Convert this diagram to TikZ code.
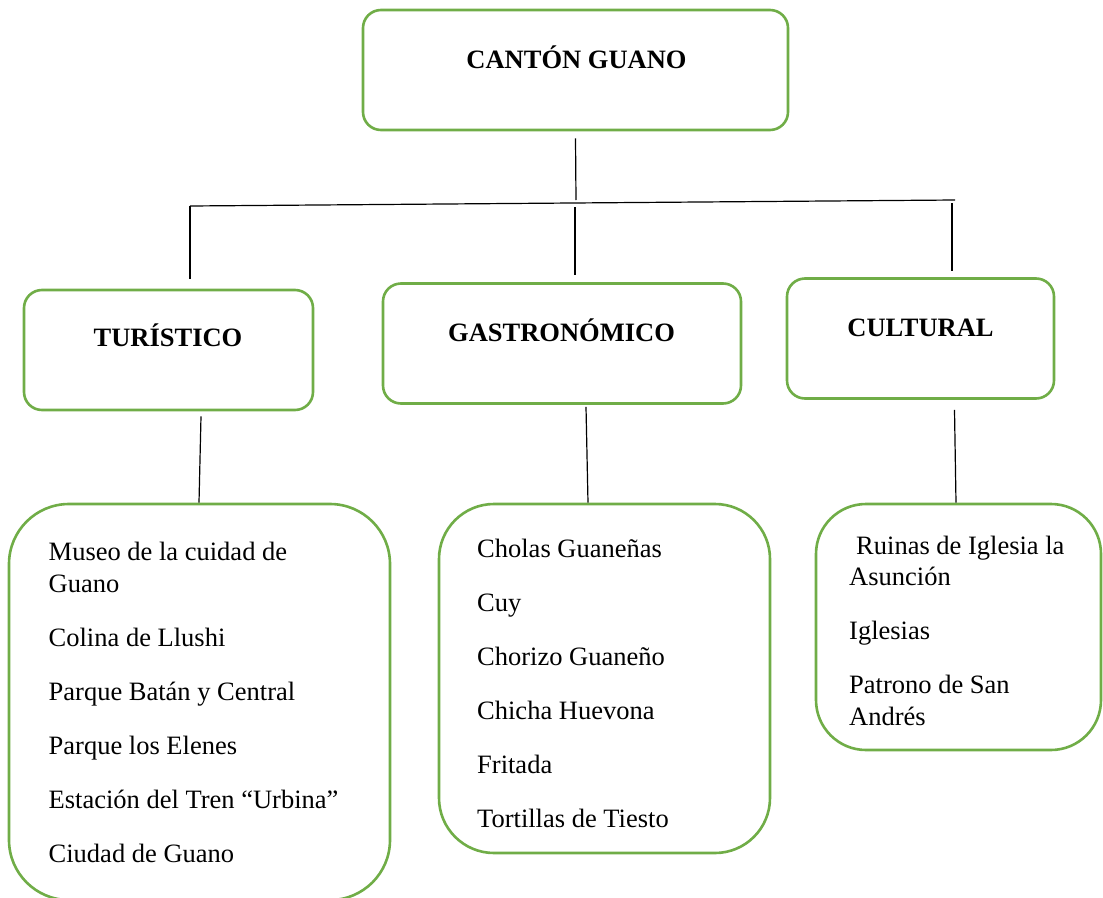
\documentclass[tikz,border=0pt]{standalone}
\usepackage{fontspec}
\setmainfont{Liberation Serif}
\usepackage{xcolor}
\usepackage{tikz}
\usetikzlibrary{calc}
\definecolor{boxgreen}{HTML}{70AD47}

\begin{document}
\begin{tikzpicture}[x=1pt, y=-1pt,
    headbox/.style={draw=boxgreen, line width=2.6pt, fill=white, rounded corners=18pt, inner sep=0pt, minimum height=120pt},
    listbox/.style={draw=boxgreen, line width=2.6pt, fill=white, inner sep=0pt},
    headtext/.style={inner sep=0pt, anchor=base, font=\fontsize{26.5}{31.5}\selectfont\bfseries},
    listtext/.style={inner sep=0pt, anchor=base west, align=left, font=\fontsize{26.5}{31.5}\selectfont},
    link/.style={black, line width=1.2pt}]
    \useasboundingbox (0,0) rectangle (1103,897);
    \clip (0,0) rectangle (1103,897);

    % Canton Guano
    \node[headbox, minimum width=425pt] (canton) at (575.5,70) {};
    \node[headtext] (cantonT) at (576.5,68.5) {CANTÓN GUANO};

    % Turistico
    \node[headbox, minimum width=289pt] (tur) at (168.5,350) {};
    \node[headtext] (turT) at (168,346.7) {TURÍSTICO};

    % Gastronomico
    \node[headbox, minimum width=358pt] (gas) at (562,343.5) {};
    \node[headtext] (gasT) at (561.5,341) {GASTRONÓMICO};

    % Cultural
    \node[headbox, minimum width=267pt] (cul) at (920.5,338.5) {};
    \node[headtext] (culT) at (920.5,336) {CULTURAL};

    % lists (anchored at the last line)
    \node[listbox, rounded corners=60pt, minimum width=381pt, minimum height=396pt] (lTur) at (199.5,702) {};
    \node[listbox, rounded corners=55pt, minimum width=331pt, minimum height=349pt] (lGas) at (604.5,678.5) {};
    \node[listbox, rounded corners=50pt, minimum width=285pt, minimum height=246pt] (lCul) at (958.5,627) {};

    \node[listtext] (lTurT) at (48.5,862) {Museo de la cuidad de\\Guano\\[22.5pt]
      Colina de Llushi\\[22.5pt]
      Parque Batán y Central\\[22.5pt]
      Parque los Elenes\\[22.5pt]
      Estación del Tren “Urbina”\\[22.5pt]
      Ciudad de Guano};
    \node[listtext] (lGasT) at (477,827) {Cholas Guaneñas\\[22.5pt]
      Cuy\\[22.5pt]
      Chorizo Guaneño\\[22.5pt]
      Chicha Huevona\\[22.5pt]
      Fritada\\[22.5pt]
      Tortillas de Tiesto};
    \node[listtext] (lCulT) at (849,725) {\hspace*{7pt}Ruinas de Iglesia la\\Asunción\\[22.5pt]
      Iglesias\\[22.5pt]
      Patrono de San\\Andrés};

    % connectors
    \coordinate (barL) at (190,206);
    \coordinate (barR) at (955,200);
    \coordinate (barTop) at (576,200);
    \coordinate (barM) at (575,207);
    \coordinate (barC) at (952,203);
    \draw[link] ([yshift=-7pt]canton.south) -- (barTop);
    \draw[link] (barL) -- (barR);
    \draw[link] (barL) -- ([xshift=21.5pt, yshift=10pt]tur.north);
    \draw[link] (barM) -- ([xshift=13pt, yshift=7.5pt]gas.north);
    \draw[link] (barC) -- ([xshift=31.5pt, yshift=6.5pt]cul.north);

    \draw[link] ([xshift=32.5pt, yshift=-5pt]tur.south) -- ([xshift=-0.5pt]lTur.north);
    \draw[link] ([xshift=24pt, yshift=-2pt]gas.south) -- ([xshift=-16.5pt]lGas.north);
    \draw[link] ([xshift=34pt, yshift=-10pt]cul.south) -- ([xshift=-2.5pt]lCul.north);
\end{tikzpicture}
\end{document}
